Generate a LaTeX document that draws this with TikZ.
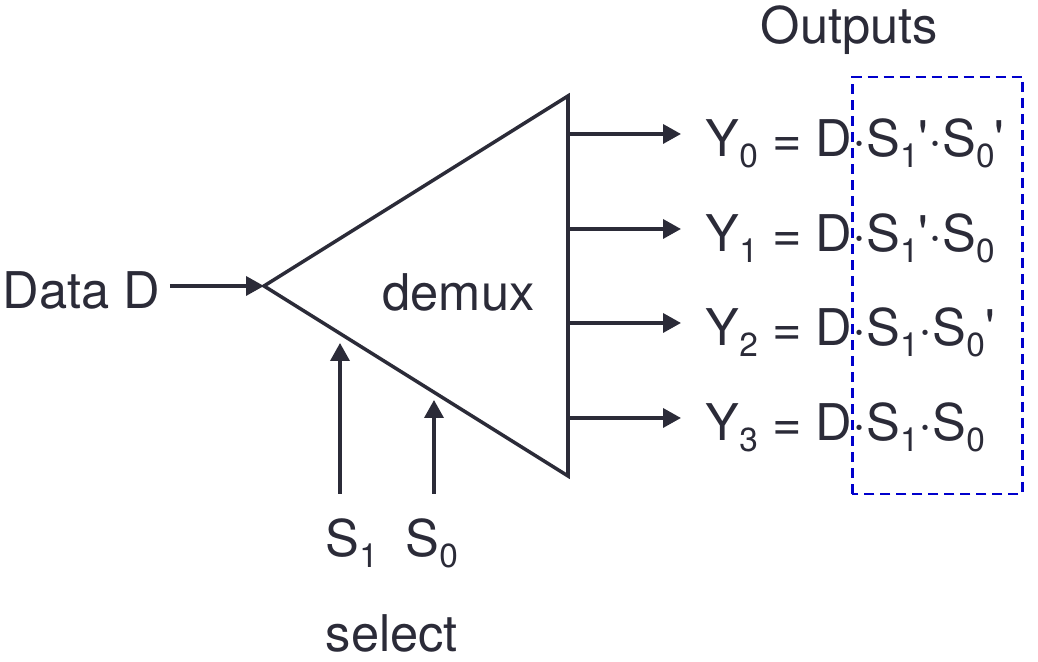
\documentclass[tikz,border=0pt]{standalone}
\usepackage{fontspec}
\usetikzlibrary{arrows.meta}
\newfontfamily\labelfont{TeX Gyre Heros}
\definecolor{inkdark}{HTML}{2B2B38}
\definecolor{boxblue}{HTML}{0000CC}
\newcommand{\lowsub}[1]{\raisebox{-0.11cm}{\fontsize{9.5}{11}\selectfont #1}}
\tikzset{
	wire/.style={color=inkdark,line width=1pt,-{Triangle[length=0.18cm,width=0.19cm]}},
	body/.style={color=inkdark,line width=1pt,line join=miter},
	lbl/.style={color=inkdark,font=\labelfont\fontsize{14.4}{17}\selectfont,inner sep=0pt,anchor=base west},
	outbox/.style={color=boxblue,line width=0.72pt,dash pattern=on 0.1cm off 0.06cm},
}
\begin{document}
\begin{tikzpicture}
	\useasboundingbox (0,0) rectangle (10.38,6.62);

	% Demux body
	\coordinate (apex) at (2.64,3.76);
	\coordinate (topcorner) at (5.68,5.66);
	\coordinate (botcorner) at (5.68,1.86);
	\draw[body] (topcorner) -- (apex) -- (botcorner) -- cycle;
	\node[lbl] (demux) at (3.82,3.51) {demux};

	% Data input
	\node[lbl] (data) at (0.02,3.53) {Data D};
	\coordinate (datastart) at (1.70,3.76);
	\draw[wire] (datastart) -- (apex);

	% Output labels
	\node[lbl] (outputs) at (7.60,6.18) {Outputs};
	\node[lbl] (y0) at (7.05,5.05) {Y\lowsub{0} = D·S\lowsub{1}'·S\lowsub{0}'};
	\node[lbl] (y1) at (7.05,4.10) {Y\lowsub{1} = D·S\lowsub{1}'·S\lowsub{0}};
	\node[lbl] (y2) at (7.05,3.16) {Y\lowsub{2} = D·S\lowsub{1}·S\lowsub{0}'};
	\node[lbl] (y3) at (7.05,2.21) {Y\lowsub{3} = D·S\lowsub{1}·S\lowsub{0}};

	% Output wires
	\coordinate (out0) at (5.68,5.28);
	\coordinate (out1) at (5.68,4.33);
	\coordinate (out2) at (5.68,3.39);
	\coordinate (out3) at (5.68,2.44);
	\coordinate (end0) at (6.81,5.28);
	\coordinate (end1) at (6.81,4.33);
	\coordinate (end2) at (6.81,3.39);
	\coordinate (end3) at (6.81,2.44);
	\draw[wire] (out0) -- (end0);
	\draw[wire] (out1) -- (end1);
	\draw[wire] (out2) -- (end2);
	\draw[wire] (out3) -- (end3);

	% Select inputs
	\node[lbl] (s1) at (3.25,1.05) {S\lowsub{1}};
	\node[lbl] (s0) at (4.05,1.05) {S\lowsub{0}};
	\node[lbl] (select) at (3.25,0.10) {select};
	\coordinate (s1start) at (3.40,1.68);
	\coordinate (s1end) at (3.40,3.19);
	\coordinate (s0start) at (4.34,1.68);
	\coordinate (s0end) at (4.34,2.62);
	\draw[wire] (s1start) -- (s1end);
	\draw[wire] (s0start) -- (s0end);

	% Dashed box
	\draw[outbox] (8.525,1.68) rectangle (10.225,5.85);
\end{tikzpicture}
\end{document}
